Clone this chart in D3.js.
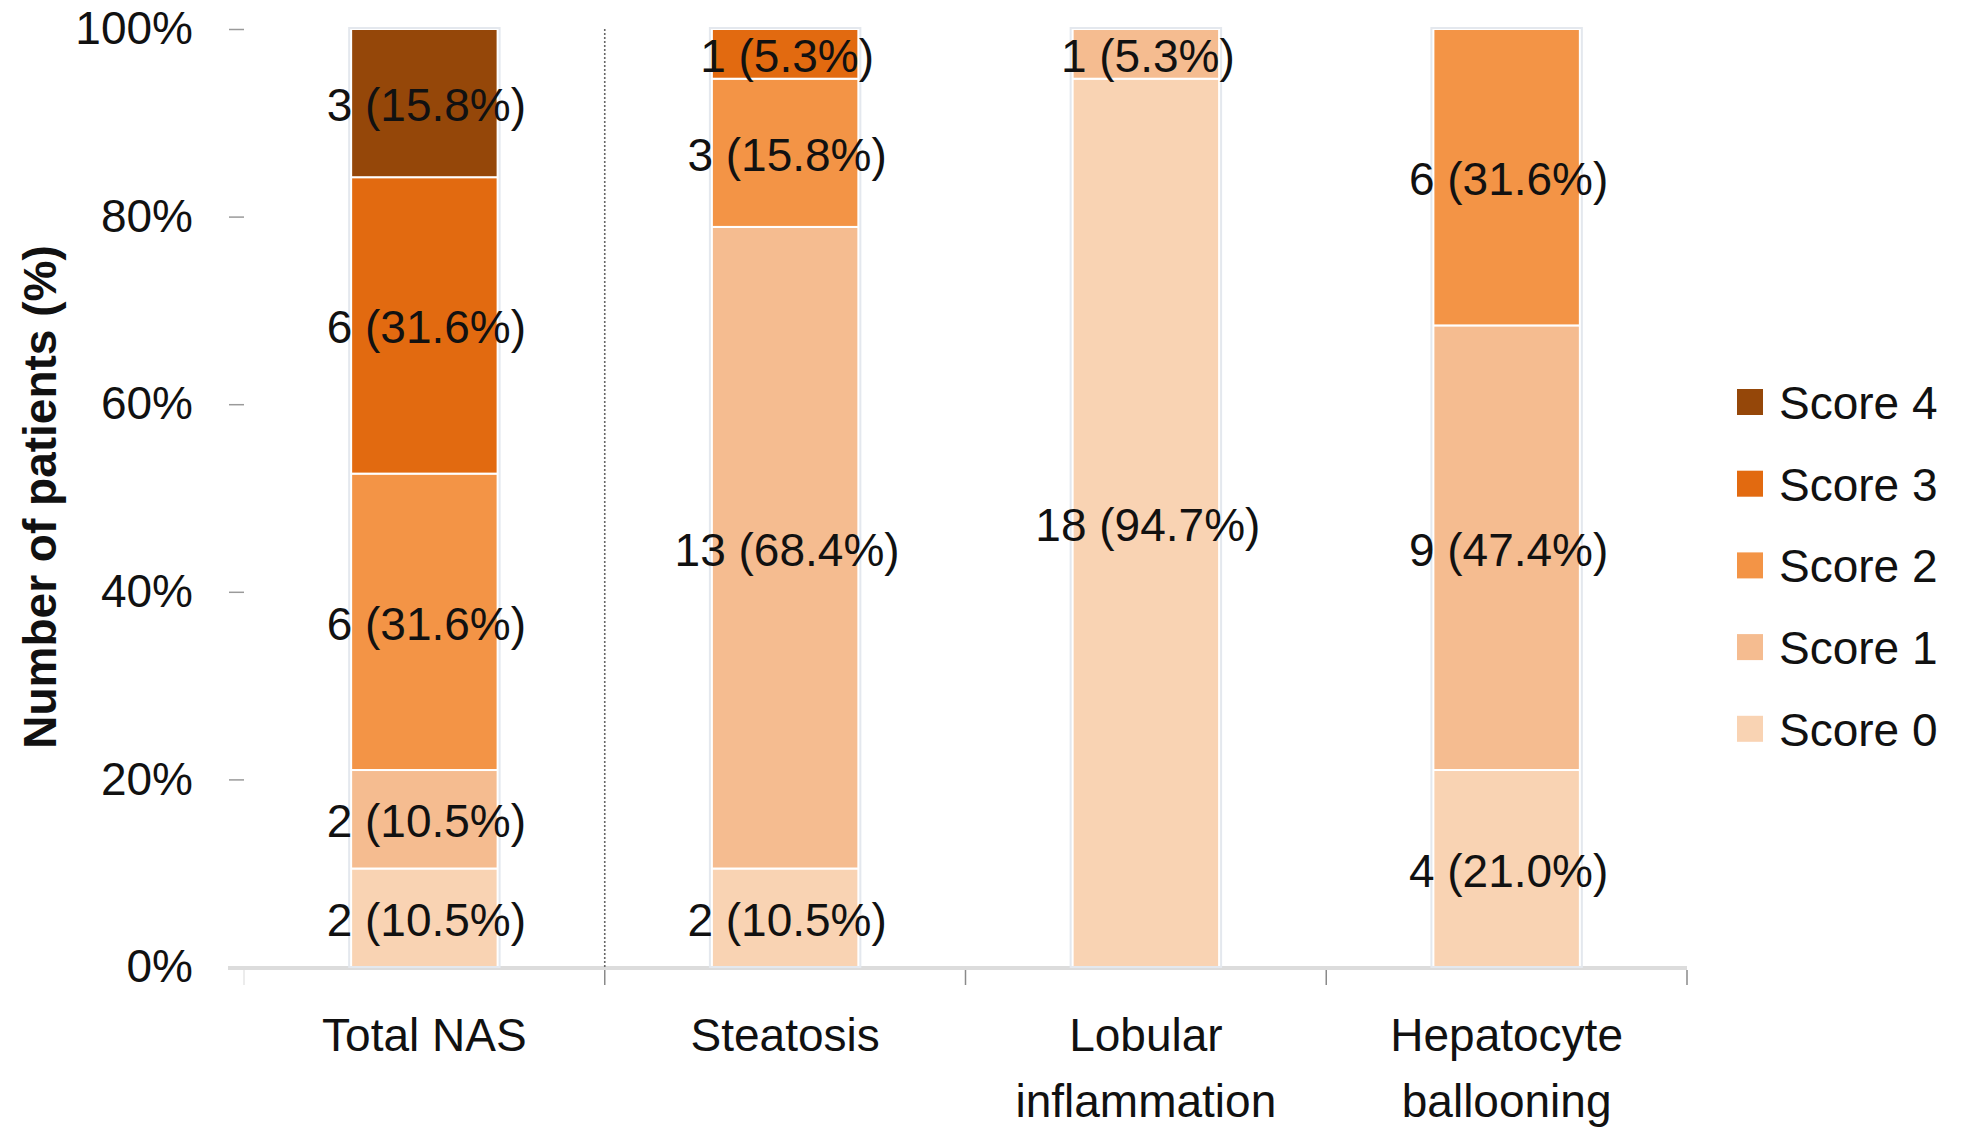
<!DOCTYPE html>
<html>
<head>
<meta charset="utf-8">
<script src="https://cdn.jsdelivr.net/npm/d3@7"></script>
<style>
  html, body { margin: 0; padding: 0; background: #ffffff; }
  svg { display: block; }
  text { font-family: "Liberation Sans", Arial, sans-serif; fill: #111; }
</style>
</head>
<body>
<svg id="chart" width="1962" height="1127"></svg>
<script>
// ---- data ----
const categories = ["Total NAS", "Steatosis", "Lobular inflammation", "Hepatocyte ballooning"];
const categoryLines = [["Total NAS"], ["Steatosis"], ["Lobular", "inflammation"], ["Hepatocyte", "ballooning"]];
const scores = ["Score 0", "Score 1", "Score 2", "Score 3", "Score 4"];
const score0Counts = [2, 2, 18, 4];
const score1Counts = [2, 13, 1, 9];
const score2Counts = [6, 3, 0, 6];
const score3Counts = [6, 1, 0, 0];
const score4Counts = [3, 0, 0, 0];
const score0Pct = [10.5, 10.5, 94.7, 21.0];
const score1Pct = [10.5, 68.4, 5.3, 47.4];
const score2Pct = [31.6, 15.8, 0, 31.6];
const score3Pct = [31.6, 5.3, 0, 0];
const score4Pct = [15.8, 0, 0, 0];
const yTicks = [0, 20, 40, 60, 80, 100];
const scoreColors = ["#f9d3b3", "#f5bc90", "#f39446", "#e26a10", "#954709"];

const countsBy = [score0Counts, score1Counts, score2Counts, score3Counts, score4Counts];
const pctBy = [score0Pct, score1Pct, score2Pct, score3Pct, score4Pct];

const rows = categories.map((c, i) => {
  const r = { category: c, idx: i };
  scores.forEach((s, k) => { r[s] = pctBy[k][i]; });
  return r;
});

const FS = "46px";
const svg = d3.select("#chart");

const x = d3.scaleBand().domain(categories).range([244, 1687]).paddingInner(0.594).paddingOuter(0.297);
const y = d3.scaleLinear().domain([0, 100]).range([967, 29]);
const color = d3.scaleOrdinal().domain(scores).range(scoreColors);

const stack = d3.stack().keys(scores);
const series = stack(rows);

// ---- y axis ----
const yAxis = d3.axisLeft(y).tickValues(yTicks).tickFormat(d => d + "%").tickSize(15).tickPadding(36);
const gy = svg.append("g").attr("transform", "translate(244,0)").call(yAxis);
gy.select(".domain").remove();
gy.selectAll(".tick line").attr("stroke", "#9a9a9a").attr("stroke-width", 1.5);
gy.selectAll(".tick text")
  .style("font-family", "'Liberation Sans', Arial, sans-serif")
  .style("font-size", FS)
  .attr("fill", "#111");

// ---- x axis line + boundary ticks ----
svg.append("line")
  .attr("x1", 228).attr("x2", 1687)
  .attr("y1", y(0) + 1).attr("y2", y(0) + 1)
  .attr("stroke", "#dcdcdc").attr("stroke-width", 4);

const step = x.step();
const boundaries = categories.map(c => x(c) - x.paddingInner() * step / 2).concat([x(categories[categories.length - 1]) + x.bandwidth() + x.paddingInner() * step / 2]);
svg.selectAll(".xtick").data(boundaries).enter().append("line")
  .attr("class", "xtick")
  .attr("x1", d => d).attr("x2", d => d)
  .attr("y1", y(0) + 3).attr("y2", y(0) + 18)
  .attr("stroke", (d, i) => i === 0 ? "#e6e6e6" : "#8a8a8a")
  .attr("stroke-width", 1.5);

// dotted separator between Total NAS and the components
svg.append("line")
  .attr("x1", boundaries[1]).attr("x2", boundaries[1])
  .attr("y1", y(100)).attr("y2", y(0))
  .attr("stroke", "#666").attr("stroke-width", 1.6)
  .attr("stroke-dasharray", "2,2");

// ---- bars ----
const layers = svg.append("g").selectAll("g").data(series).enter().append("g")
  .attr("fill", d => color(d.key));

layers.selectAll("rect").data(d => d.filter(p => p[1] - p[0] > 0)).enter().append("rect")
  .attr("x", d => x(d.data.category))
  .attr("width", x.bandwidth())
  .attr("y", d => y(d[1]))
  .attr("height", d => y(d[0]) - y(d[1]))
  .attr("stroke", "#ffffff")
  .attr("stroke-width", 2);

// faint outline around each bar
svg.append("g").selectAll("rect").data(categories).enter().append("rect")
  .attr("x", d => x(d) - 2)
  .attr("width", x.bandwidth() + 4)
  .attr("y", y(100) - 1)
  .attr("height", y(0) - y(100) + 1)
  .attr("fill", "none")
  .attr("stroke", "#e4e8ee")
  .attr("stroke-width", 2);

// ---- segment labels ----
const labelData = [];
series.forEach((s, k) => {
  s.forEach((p, i) => {
    if (countsBy[k][i] > 0) {
      labelData.push({ cat: categories[i], y0: p[0], y1: p[1], n: countsBy[k][i], pct: pctBy[k][i] });
    }
  });
});
svg.append("g").selectAll("text").data(labelData).enter().append("text")
  .attr("x", d => x(d.cat) + x.bandwidth() / 2 + 2)
  .attr("y", d => y((d.y0 + d.y1) / 2) + 2)
  .attr("text-anchor", "middle")
  .attr("dominant-baseline", "central")
  .style("font-size", FS)
  .text(d => d.n + " (" + d.pct.toFixed(1) + "%)");

// ---- category labels ----
const catG = svg.append("g").selectAll("text").data(categories).enter().append("text")
  .attr("text-anchor", "middle")
  .style("font-size", FS);
catG.each(function (c, i) {
  const t = d3.select(this);
  categoryLines[i].forEach((line, j) => {
    t.append("tspan")
      .attr("x", x(c) + x.bandwidth() / 2)
      .attr("y", 1035 + j * 66)
      .attr("dominant-baseline", "central")
      .text(line);
  });
});

// ---- y axis title ----
svg.append("text")
  .attr("transform", "translate(56,497) rotate(-90)")
  .attr("text-anchor", "middle")
  .style("font-size", "46px")
  .style("font-weight", "bold")
  .text("Number of patients (%)");

// ---- legend (Score 4 at top) ----
const legendOrder = scores.slice().reverse();
const lg = svg.append("g").selectAll("g").data(legendOrder).enter().append("g")
  .attr("transform", (d, i) => "translate(1737," + (402 + i * 81.7) + ")");
lg.append("rect")
  .attr("x", 0).attr("y", -13).attr("width", 26).attr("height", 26)
  .attr("fill", d => color(d));
lg.append("text")
  .attr("x", 42).attr("y", 1)
  .attr("dominant-baseline", "central")
  .style("font-size", FS)
  .text(d => d);
</script>
</body>
</html>
